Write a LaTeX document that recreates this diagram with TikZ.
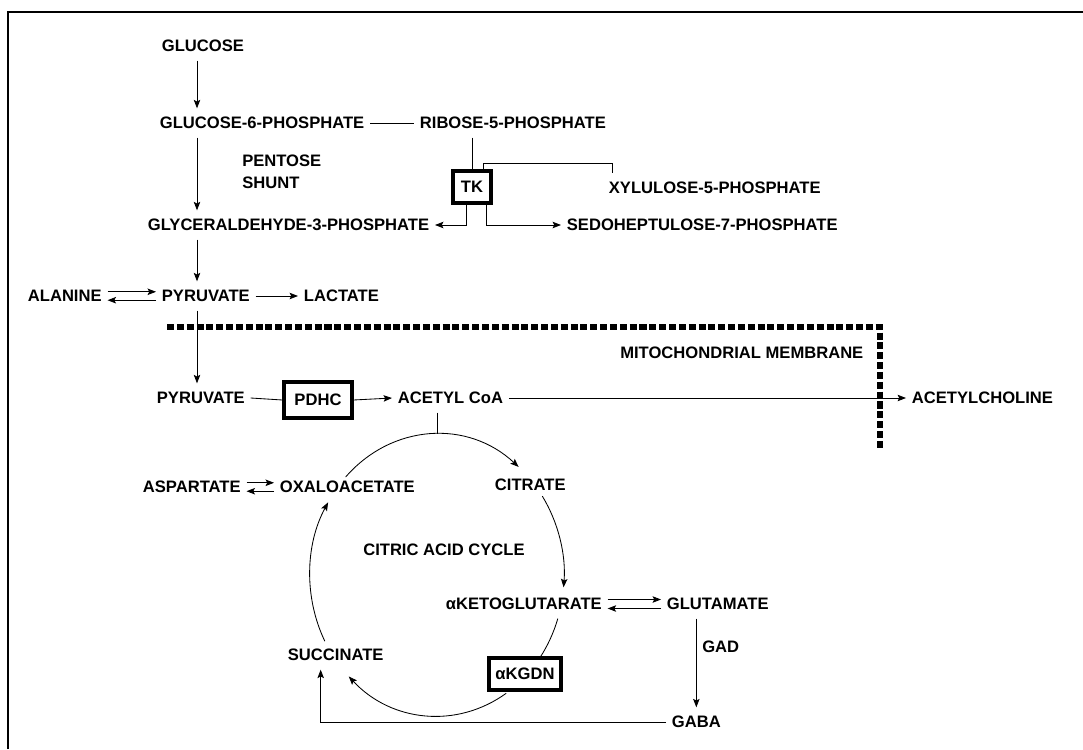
\documentclass[tikz,border=0pt]{standalone}
\usepackage{fontspec}
\setmainfont{Liberation Sans}
\usepackage{tikz}
\usetikzlibrary{arrows.meta,calc}
\begin{document}
\begin{tikzpicture}[
  x=0.025cm, y=-0.025cm,
  font=\fontsize{11.8}{15.6}\selectfont\bfseries,
  met/.style={anchor=west, inner xsep=4pt, inner ysep=6pt, text height=8.5pt, text depth=0pt},
  lbl/.style={anchor=west, inner sep=0pt, align=left},
  enz/.style={draw=black, line width=2.8pt, inner sep=0pt, text height=8.5pt, text depth=0pt},
  ln/.style={line width=0.6pt},
  arr/.style={ln, -{Stealth[length=6pt, width=4.6pt, inset=1.2pt]}},
  membrane/.style={line width=4pt, dash pattern=on 5pt off 2pt},
  tcarc/.style={x radius=3.175cm, y radius=3.525cm}]

  \useasboundingbox (0,0) rectangle (1083,749);
  \draw[line width=1.4pt] (8,749) -- (8,12) -- (1083,12);

  % ---------- glycolysis / pentose shunt ----------
  \coordinate (spine) at (197,0);
  \node[met] (glc)  at (156,46)  {GLUCOSE};
  \node[met] (g6p)  at (154,123) {GLUCOSE-6-PHOSPHATE};
  \node[met] (r5p)  at (414,123) {RIBOSE-5-PHOSPHATE};
  \node[lbl] (pent) at (242,172) {PENTOSE\\SHUNT};
  \node[enz, minimum width=0.93cm, minimum height=0.78cm] (tk) at (472,187) {TK};
  \node[met] (xu5p) at (603,188) {XYLULOSE-5-PHOSPHATE};
  \node[met] (gap)  at (142,225) {GLYCERALDEHYDE-3-PHOSPHATE};
  \node[met] (s7p)  at (561,225) {SEDOHEPTULOSE-7-PHOSPHATE};

  \draw[arr] (glc.south -| spine) -- (g6p.north -| spine);
  \draw[arr] (g6p.south -| spine) -- (gap.north -| spine);
  \draw[ln] (g6p.east) -- (r5p.west);
  \draw[ln] (r5p.south -| tk.north) -- (tk.north);
  \coordinate (xbend) at (612,163);
  \draw[ln] ([xshift=2.75mm]tk.north) |- (xbend) -- (xbend |- xu5p.north);
  \draw[arr] ([xshift=-1.5mm]tk.south) |- (gap.east);
  \draw[arr] ([xshift=3.5mm]tk.south) |- (s7p.west);

  % ---------- pyruvate ----------
  \node[met] (ala) at (22,296)  {ALANINE};
  \node[met] (pyr) at (156,296) {PYRUVATE};
  \node[met] (lac) at (298,296) {LACTATE};
  \draw[arr] (gap.south -| spine) -- (pyr.north -| spine);
  \draw[arr] ([yshift=3pt]ala.east) -- ([yshift=3pt]pyr.west);
  \draw[arr] ([yshift=-3pt]pyr.west) -- ([yshift=-3pt]ala.east);
  \draw[arr] (pyr.east) -- (lac.west);

  % membrane
  \draw[membrane] (167,327) -- (880,327) -- (880,450);
  \node[lbl] (mem) at (620,353) {MITOCHONDRIAL MEMBRANE};

  % ---------- mitochondrion ----------
  \node[met] (pyrm)  at (151,398) {PYRUVATE};
  \node[enz, minimum width=1.68cm, minimum height=0.9cm] (pdhc) at (318,400) {PDHC};
  \node[met] (acoa)  at (392,398) {ACETYL CoA};
  \node[met] (ach)   at (906,398) {ACETYLCHOLINE};
  \draw[arr] (pyr.south -| spine) -- (pyrm.north -| spine);
  \draw[ln] (pyrm.east) -- (pdhc.west);
  \draw[arr] (pdhc.east) -- (acoa.west);
  \draw[arr] (acoa.east) -- (ach.west);

  % ---------- citric acid cycle ----------
  \node[met] (asp)   at (137,487) {ASPARTATE};
  \node[met] (oaa)   at (274,487) {OXALOACETATE};
  \node[met] (cit)   at (489,485) {CITRATE};
  \node[lbl] (tca)   at (363,550) {CITRIC ACID CYCLE};
  \node[met] (akg)   at (440,604) {αKETOGLUTARATE};
  \node[met] (glu)   at (661,604) {GLUTAMATE};
  \node[lbl] (gad)   at (702,647) {GAD};
  \node[met] (succ)  at (282,655) {SUCCINATE};
  \node[enz, minimum width=1.8cm, minimum height=0.78cm] (akgdn) at (525,674) {αKGDN};
  \node[met] (gaba)  at (666,722) {GABA};

  \coordinate (cyc) at (437,575);
  \coordinate (cyctop) at ($(cyc)+(90:3.175cm and 3.525cm)$);
  \draw[ln] (acoa.south -| cyctop) -- (cyctop);
  \draw[arr] ($(cyc)+(136:3.175cm and 3.525cm)$) arc[tcarc, start angle=136, end angle=50];
  \draw[arr] ($(cyc)+(34:3.175cm and 3.525cm)$) arc[tcarc, start angle=34, end angle=-5];
  \draw[ln] ($(cyc)+(-18:3.175cm and 3.525cm)$) arc[tcarc, start angle=-18, end angle=-36];
  \draw[arr] ($(cyc)+(-57:3.175cm and 3.525cm)$) arc[tcarc, start angle=-57, end angle=-134];
  \draw[arr] ($(cyc)+(208:3.175cm and 3.525cm)$) arc[tcarc, start angle=208, end angle=149];

  \draw[arr] ([yshift=3pt]asp.east) -- ([yshift=3pt]oaa.west);
  \draw[arr] ([yshift=-3pt]oaa.west) -- ([yshift=-3pt]asp.east);
  \draw[arr] ([yshift=3.2pt]akg.east) -- ([yshift=3.2pt]glu.west);
  \draw[arr] ([yshift=-3.2pt]glu.west) -- ([yshift=-3.2pt]akg.east);

  % GABA shunt
  \draw[arr] (glu.south -| gaba) -- (gaba.north);
  \draw[arr] (gaba.west) -| ([xshift=-3.75mm]succ.south);

\end{tikzpicture}
\end{document}
